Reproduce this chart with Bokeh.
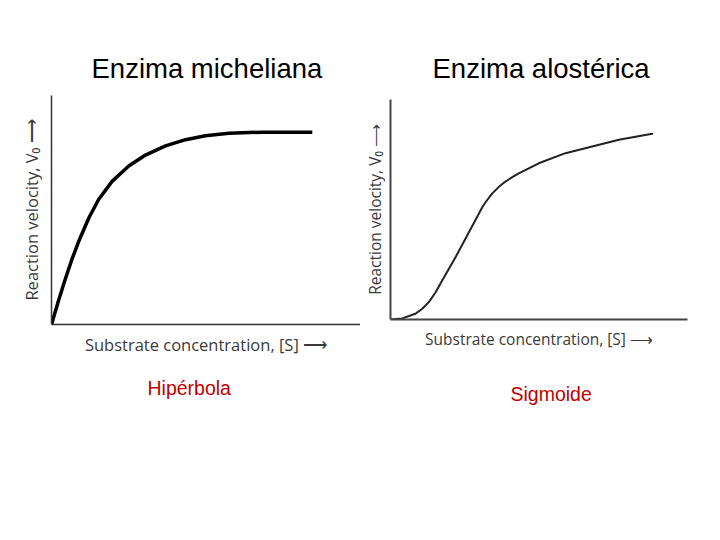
from bokeh.plotting import figure
from bokeh.models import Range1d, Title
from bokeh.layouts import row
from bokeh.embed import file_html
from bokeh.resources import INLINE

# ---- data (arbitrary units) ----
s_michaelis = [0.0, 0.24, 0.45, 0.67, 0.89, 1.21, 1.53, 1.96, 2.50, 3.04, 3.69, 4.34, 4.98, 5.74, 6.82, 8.44]
v_michaelis = [0.0, 1.10, 2.00, 2.88, 3.66, 4.66, 5.47, 6.25, 6.92, 7.40, 7.80, 8.07, 8.24, 8.35, 8.40, 8.40]

s_allosteric = [0.0, 0.39, 0.84, 1.07, 1.29, 1.52, 1.74, 2.19, 2.64, 3.09, 3.20, 3.42, 3.65, 3.87,
                4.10, 4.32, 4.99, 5.89, 6.79, 7.69, 8.81]
v_allosteric = [0.0, 0.05, 0.26, 0.49, 0.79, 1.24, 1.77, 2.83, 3.97, 5.10, 5.33, 5.72, 6.03, 6.27,
                6.47, 6.64, 7.10, 7.56, 7.86, 8.17, 8.44]

titles = ["Enzima micheliana", "Enzima alostérica"]
captions = ["Hipérbola", "Sigmoide"]
x_label = "Substrate concentration, [S] \u27f6"
y_label = "Reaction velocity, V\u2080 \u27f6"

CAPTION_COLOR = "#C00000"
LABEL_COLOR = "#3a3a3a"


def make_panel(xs, ys, title, caption, borders, frame, axis_color, axis_width,
               line_color, line_width, line_cap, label_size, cap_offset, title_offset,
               title_standoff, cap_standoff, ylabel_standoff):
    bl, bt, br, bb = borders
    fw, fh = frame
    p = figure(width=bl + fw + br, height=bt + fh + bb,
               x_range=Range1d(0, 10), y_range=Range1d(0, 10),
               output_backend="svg", toolbar_location=None,
               min_border_left=bl, min_border_right=br,
               min_border_top=bt, min_border_bottom=bb)
    p.frame_align = False
    p.outline_line_color = None
    p.background_fill_color = "white"
    p.border_fill_color = "white"
    p.xgrid.visible = False
    p.ygrid.visible = False

    for ax in (p.xaxis[0], p.yaxis[0]):
        ax.ticker = []
        ax.major_tick_line_color = None
        ax.minor_tick_line_color = None
        ax.major_label_text_font_size = "0px"
        ax.axis_line_color = axis_color
        ax.axis_line_width = axis_width
        ax.axis_label_text_font = "Open Sans"
        ax.axis_label_text_font_style = "normal"
        ax.axis_label_text_font_size = label_size
        ax.axis_label_text_color = LABEL_COLOR
    p.xaxis.axis_label = x_label
    p.yaxis.axis_label = y_label
    p.xaxis.axis_label_standoff = 8
    p.yaxis.axis_label_standoff = ylabel_standoff

    p.title = Title(text=title, align="left", text_font="Liberation Sans",
                    text_font_size="27.5px", text_font_style="normal",
                    text_color="black", offset=title_offset,
                    standoff=title_standoff)

    p.add_layout(Title(text=caption, align="left", text_font="Liberation Sans",
                       text_font_size="19.5px", text_font_style="normal",
                       text_color=CAPTION_COLOR, offset=cap_offset,
                       standoff=cap_standoff), "below")

    p.line(xs, ys, line_color=line_color, line_width=line_width,
           line_join="round", line_cap=line_cap)
    return p


p1 = make_panel(s_michaelis, v_michaelis, titles[0], captions[0],
                borders=(51, 95, 0, 136), frame=(309, 229),
                axis_color="#333333", axis_width=1.5,
                line_color="black", line_width=3.5, line_cap="butt", label_size="16.5px",
                cap_offset=96, title_offset=40, title_standoff=24, cap_standoff=32,
                ylabel_standoff=9)

p2 = make_panel(s_allosteric, v_allosteric, titles[1], captions[1],
                borders=(30, 99, 10, 141), frame=(297, 220),
                axis_color="#444444", axis_width=2,
                line_color="#222222", line_width=2, line_cap="round", label_size="15.5px",
                cap_offset=120, title_offset=42, title_standoff=32, cap_standoff=56,
                ylabel_standoff=5)

layout = row(p1, p2, spacing=0)

open("out.html", "w").write(file_html(layout, INLINE))
